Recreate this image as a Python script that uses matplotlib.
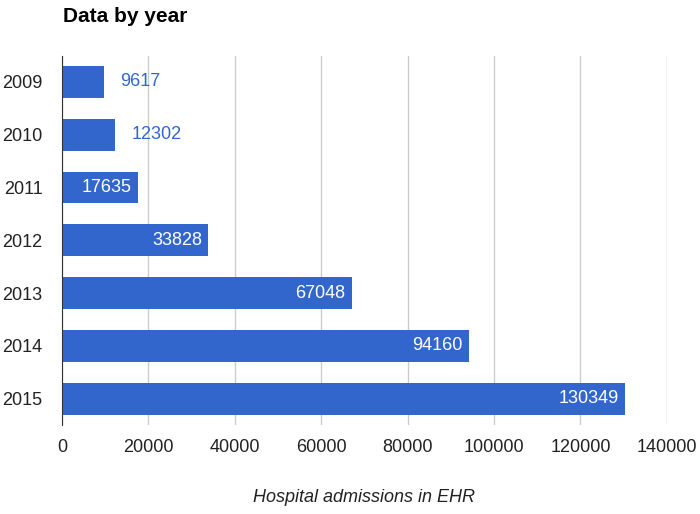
import matplotlib.pyplot as plt

years = ["2009", "2010", "2011", "2012", "2013", "2014", "2015"]
admissions = [9617, 12302, 17635, 33828, 67048, 94160, 130349]
x_ticks = [0, 20000, 40000, 60000, 80000, 100000, 120000, 140000]

bar_color = "#3366CC"

plt.rcParams["font.family"] = ["Liberation Sans", "DejaVu Sans"]

fig = plt.figure(figsize=(7, 5.14), dpi=100)
ax = fig.add_axes([0.0886, 0.173, 0.864, 0.719])

ypos = list(range(len(years)))
bars = ax.barh(ypos, admissions, height=0.6, color=bar_color, zorder=3)

ax.set_xlim(0, 140000)
ax.set_ylim(len(years) - 0.5, -0.5)
ax.set_xticks(x_ticks)
ax.set_xticklabels([str(t) for t in x_ticks])
ax.set_yticks(ypos)
ax.set_yticklabels(years)
ax.tick_params(axis="both", length=0, labelsize=13, colors="#222222")
ax.tick_params(axis="x", pad=10)
ax.tick_params(axis="y", pad=14)

ax.grid(axis="x", color="#cccccc", linewidth=1, zorder=0)
for s in ["top", "right", "bottom"]:
    ax.spines[s].set_visible(False)
ax.spines["left"].set_color("#333333")
ax.spines["left"].set_zorder(4)

# value labels: inside the bar if it fits, otherwise just after it
for y, v in zip(ypos, admissions):
    if v > 15000:
        ax.annotate(str(v), (v, y), xytext=(-4.5, 0), textcoords="offset points",
                    ha="right", va="center", color="white", fontsize=13, zorder=5)
    else:
        ax.annotate(str(v), (v, y), xytext=(12, 0), textcoords="offset points",
                    ha="left", va="center", color=bar_color, fontsize=13, zorder=5)

fig.text(0.09, 0.967, "Data by year", fontsize=15, fontweight="bold",
         ha="left", va="center", color="#000000")
ax.set_xlabel("Hospital admissions in EHR", fontsize=13, style="italic",
              color="#222222", labelpad=24)

fig.savefig("out.png", dpi=100)
